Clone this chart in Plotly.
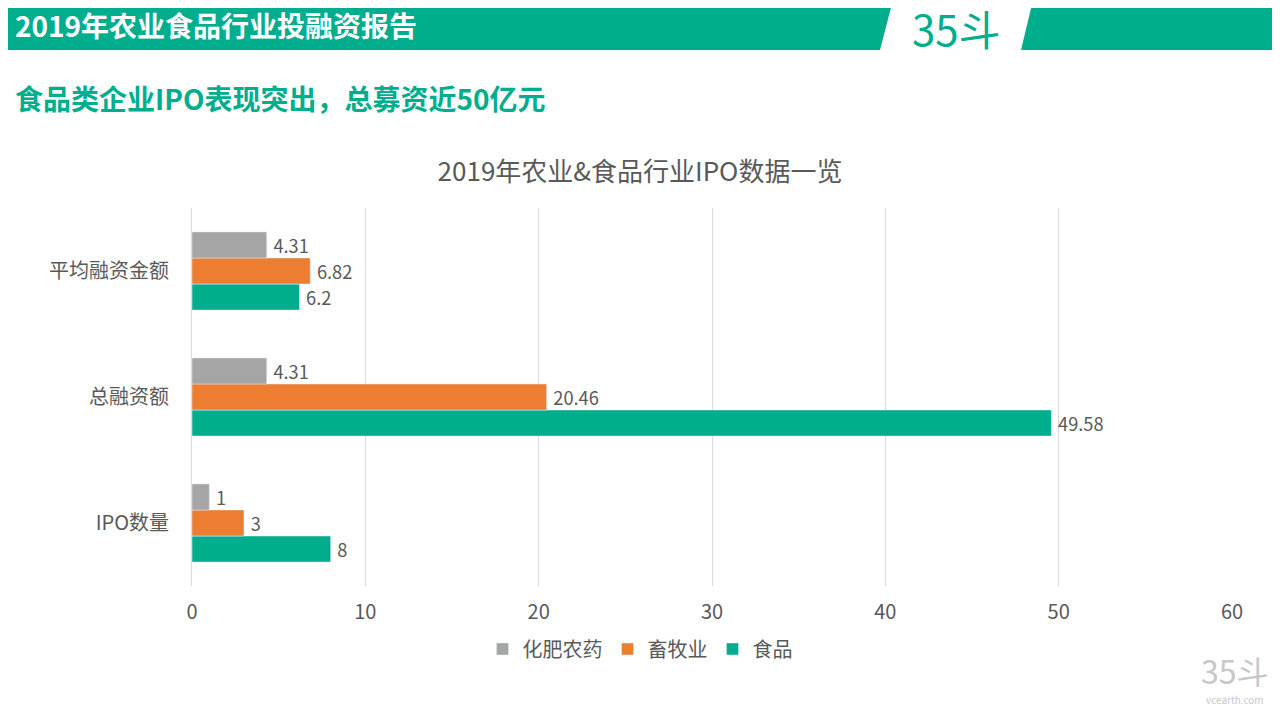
import plotly.graph_objects as go

categories = ["IPO数量", "总融资额", "平均融资金额"]
food = [8, 49.58, 6.2]
livestock = [3, 20.46, 6.82]
fertilizer = [1, 4.31, 4.31]
food_labels = ["8", "49.58", "6.2"]
livestock_labels = ["3", "20.46", "6.82"]
fertilizer_labels = ["1", "4.31", "4.31"]

GREEN = "#00AE8E"
ORANGE = "#ED7D31"
GRAY = "#A5A5A5"
FONT = "Noto Sans CJK SC"

# the page puts the figure 8px in from the top-left corner
OFF = 8
W, H = 1280 - OFF, 720 - OFF
# plot area in screen pixels
L, R, T, B = 192, 1232, 208, 586


def px(x):
    return (x - L) / (R - L)


def py(y):
    return (B - y) / (B - T)


fig = go.Figure()
for name, vals, labels, color in [
    ("食品", food, food_labels, GREEN),
    ("畜牧业", livestock, livestock_labels, ORANGE),
    ("化肥农药", fertilizer, fertilizer_labels, GRAY),
]:
    fig.add_trace(go.Bar(
        y=categories, x=vals, name=name, orientation="h",
        marker_color=color, text=["\u2009" + t for t in labels], textposition="outside",
        textfont=dict(size=21, color="#595959", family=FONT),
        cliponaxis=False,
    ))

shapes = [
    dict(type="path", xref="paper", yref="paper", layer="below",
         path=f"M {px(0)} {py(0)} L {px(893)} {py(0)} L {px(880)} {py(50)} L {px(0)} {py(50)} Z",
         fillcolor=GREEN, line_width=0),
    dict(type="path", xref="paper", yref="paper", layer="below",
         path=f"M {px(1033)} {py(0)} L {px(1290)} {py(0)} L {px(1290)} {py(50)} L {px(1021)} {py(50)} Z",
         fillcolor=GREEN, line_width=0),
]

annotations = [
    dict(text="<b>2019年农业食品行业投融资报告</b>", x=px(13), y=py(25), xanchor="left", yanchor="middle",
         font=dict(size=28, color="white", family=FONT)),
    dict(text="35斗", x=px(956), y=py(28), xanchor="center", yanchor="middle",
         font=dict(size=42, color=GREEN, family=FONT)),
    dict(text="<b>食品类企业IPO表现突出，总募资近50亿元</b>", x=px(13), y=py(98), xanchor="left", yanchor="middle",
         font=dict(size=28, color=GREEN, family=FONT)),
    dict(text="35斗", x=px(1235), y=py(670), xanchor="center", yanchor="middle",
         font=dict(size=32, color="#C8C8C8", family=FONT)),
    dict(text="vcearth.com", x=px(1235), y=py(699), xanchor="center", yanchor="middle",
         font=dict(size=10, color="#C8C8C8", family=FONT)),
]
for a in annotations:
    a.update(xref="paper", yref="paper", showarrow=False)

fig.update_layout(
    width=W, height=H,
    margin=dict(l=L - OFF, r=1280 - R, t=T - OFF, b=720 - B),
    paper_bgcolor="white", plot_bgcolor="white",
    barmode="group", bargap=0.38, bargroupgap=0,
    font=dict(family=FONT, color="#595959"),
    title=dict(text="2019年农业&食品行业IPO数据一览", x=(640 - OFF) / W, y=1 - (172 - OFF) / H,
               xanchor="center", yanchor="middle",
               font=dict(size=26, color="#595959", family=FONT)),
    xaxis=dict(range=[0, 60], dtick=10, showgrid=True, gridcolor="#D9D9D9", zeroline=False,
               tickfont=dict(size=20, color="#595959"), ticks="", showline=False,
               ticklabelstandoff=12),
    yaxis=dict(tickfont=dict(size=20, color="#595959"), showline=True, linecolor="#D9D9D9",
               ticks="", ticklabelstandoff=18),
    legend=dict(orientation="h", x=px(640), xanchor="center", y=py(649), yanchor="middle",
                traceorder="reversed", font=dict(size=20, color="#595959")),
    shapes=shapes, annotations=annotations,
)

fig.write_html("out.html")
